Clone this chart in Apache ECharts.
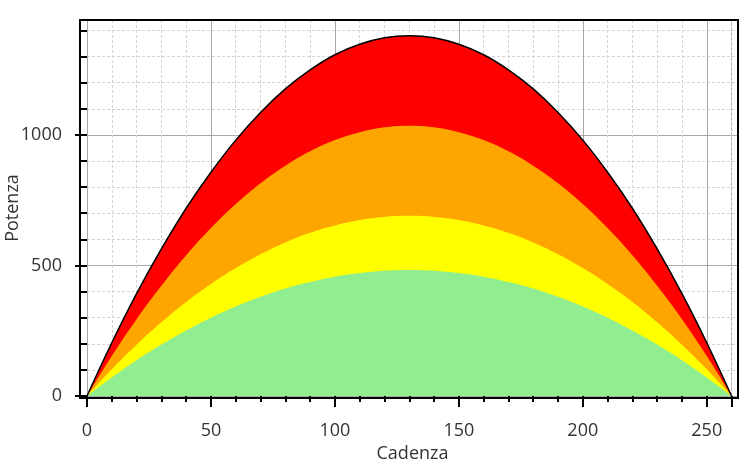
<!DOCTYPE html>
<html>
<head>
<meta charset="utf-8">
<script src="https://cdn.jsdelivr.net/npm/echarts@6.0.0/dist/echarts.min.js"></script>
<style>
html,body{margin:0;padding:0;background:#fff;}
#chart{width:750px;height:476px;}
</style>
</head>
<body>
<div id="chart"></div>
<script>
// Cadenza values (x)
const cadenza = [0,10,20,30,40,50,60,70,80,90,100,110,120,130,140,150,160,170,180,190,200,210,220,230,240,250,260];
// Potenza bands
const redTop   = [0,204,392,563,719,857,980,1086,1176,1249,1307,1347,1372,1380,1372,1347,1307,1249,1176,1086,980,857,719,563,392,204,0];
const orange   = [0,153,294,422,539,643,735,815,882,937,980,1010,1029,1035,1029,1010,980,937,882,815,735,643,539,422,294,153,0];
const yellow   = [0,102,196,282,360,429,490,543,588,625,653,674,686,690,686,674,653,625,588,543,490,429,360,282,196,102,0];
const green    = [0,71,137,197,251,300,343,380,412,437,457,471,480,483,480,471,457,437,412,380,343,300,251,197,137,71,0];
// Tick labels
const xTickLabels = [0,50,100,150,200,250];
const xMajorTicks = [0,50,100,150,200,250,260];
const yTickLabels = [0,500,1000];

const pairs = arr => cadenza.map((c,i)=>[c,arr[i]]);
const font = "'Open Sans','Noto Sans','DejaVu Sans',sans-serif";

const chart = echarts.init(document.getElementById('chart'), null, {renderer:'canvas'});
const mk = (name, arr, color, line) => ({
  name, type:'line', data: pairs(arr), smooth:0.4, symbol:'none',
  lineStyle: line ? {color:'#000', width:1.5} : {width:0, color:color},
  areaStyle: {color: color, opacity:1},
  itemStyle:{color:color},
  silent:true
});
chart.setOption({
  animation:false,
  backgroundColor:'#fff',
  grid:{left:87, right:12, top:20, bottom:80, containLabel:false, outerBoundsMode:'none'},
  xAxis:{
    type:'value', min:0, max:262.6, interval:50, offset:2,
    name:'Cadenza', nameLocation:'middle', nameGap:47, nameMoveOverlap:false,
    nameTextStyle:{fontFamily:font, fontSize:18, color:'#333'},
    axisLine:{show:false},
    axisTick:{show:true, length:11, customValues:xMajorTicks, lineStyle:{color:'#000', width:2}},
    minorTick:{show:true, splitNumber:5, length:6, lineStyle:{color:'#000', width:2}},
    axisLabel:{customValues:xTickLabels, margin:24, fontFamily:font, fontSize:18, color:'#333',
      formatter: v => String(v)},
    splitLine:{show:true, lineStyle:{color:'#a8a8a8', width:1}},
    minorSplitLine:{show:true, lineStyle:{color:'#d4d4d4', width:1, type:[3,2]}}
  },
  yAxis:{
    type:'value', min:0, max:1440, interval:500, offset:7,
    name:'Potenza', nameLocation:'middle', nameGap:58, nameRotate:90, nameMoveOverlap:false,
    nameTextStyle:{fontFamily:font, fontSize:18, color:'#333'},
    axisLine:{show:false},
    axisTick:{show:true, length:12, customValues:yTickLabels, lineStyle:{color:'#000', width:2}},
    minorTick:{show:true, splitNumber:5, length:7, lineStyle:{color:'#000', width:2}},
    axisLabel:{customValues:yTickLabels, margin:18, fontFamily:font, fontSize:18, color:'#333',
      formatter: v => String(v)},
    splitLine:{show:true, lineStyle:{color:'#a8a8a8', width:1}},
    minorSplitLine:{show:true, lineStyle:{color:'#d4d4d4', width:1, type:[3,2]}}
  },
  graphic:[{type:'rect', z:100, silent:true,
    shape:{x:80, y:20, width:658, height:378},
    style:{fill:null, stroke:'#000', lineWidth:2}}],
  series:[
    mk('Rosso', redTop, '#ff0000', true),
    mk('Arancione', orange, '#ffa500', false),
    mk('Giallo', yellow, '#ffff00', false),
    mk('Verde', green, '#90ee90', false)
  ]
});
</script>
</body>
</html>
